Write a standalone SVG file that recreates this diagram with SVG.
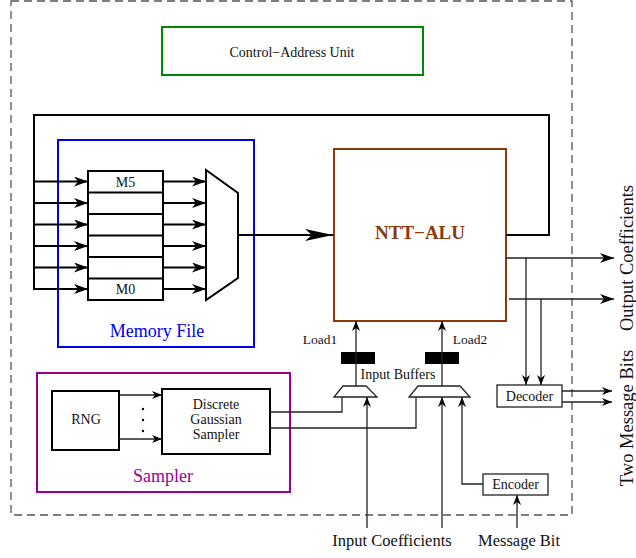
<svg xmlns="http://www.w3.org/2000/svg" width="636" height="558" viewBox="0 0 636 558">
<defs>
<style>
text{font-family:"Liberation Serif","Times New Roman",serif;fill:#111}
.thick{fill:none;stroke:#000;stroke-width:2}
.thin{fill:none;stroke:#222;stroke-width:1.3}
.box{fill:#fff;stroke:#000;stroke-width:2}
.sbox{fill:#fff;stroke:#222;stroke-width:1.3}
.c{text-anchor:middle}
</style>
<marker id="aBig" markerUnits="userSpaceOnUse" markerWidth="28" markerHeight="12" refX="28" refY="6" orient="auto"><path d="M0,0 L28,6 L0,12 L7,6 z" fill="#000"/></marker>
<marker id="aMid" markerUnits="userSpaceOnUse" markerWidth="14" markerHeight="10" refX="14" refY="5" orient="auto"><path d="M0,0 L14,5 L0,10 L4,5 z" fill="#000"/></marker>
<marker id="aSm" markerUnits="userSpaceOnUse" markerWidth="10" markerHeight="8" refX="10" refY="4" orient="auto"><path d="M0,0 L10,4 L0,8 L3,4 z" fill="#000"/></marker>
</defs>
<rect width="636" height="558" fill="#fff"/>
<rect x="11" y="1" width="561" height="514" fill="none" stroke="#555" stroke-width="1.3" stroke-dasharray="8,5"/>

<g id="control-address-unit">
<rect x="162" y="27" width="261" height="48" fill="#fff" stroke="#008800" stroke-width="2"/>
<text x="292" y="57" class="c" font-size="14">Control−Address Unit</text>
</g>

<g id="memory-file">
<rect x="58" y="140" width="196" height="207" fill="none" stroke="#0000ee" stroke-width="2"/>
<text x="157" y="337" class="c" font-size="18" style="fill:#0000ee">Memory File</text>
</g>

<g id="registers">
<rect x="88" y="171" width="75" height="129" class="box"/>
<line x1="88" y1="192.5" x2="163" y2="192.5" class="thick"/>
<line x1="88" y1="214" x2="163" y2="214" class="thick"/>
<line x1="88" y1="235.5" x2="163" y2="235.5" class="thick"/>
<line x1="88" y1="257" x2="163" y2="257" class="thick"/>
<line x1="88" y1="278.5" x2="163" y2="278.5" class="thick"/>
<text x="125.5" y="186.5" class="c" font-size="14">M5</text>
<text x="125.5" y="294" class="c" font-size="14">M0</text>
</g>

<g id="mux">
<polygon points="206,170 238,193 238,278 206,300" class="box"/>
</g>

<g id="ntt-alu">
<rect x="334" y="149" width="172" height="172" fill="#fff" stroke="#8b3a0e" stroke-width="2"/>
<text x="420" y="239" class="c" font-size="19" font-weight="bold" style="fill:#8b3a0e">NTT−ALU</text>
</g>

<g id="sampler">
<rect x="37" y="373" width="253" height="119" fill="none" stroke="#990099" stroke-width="2"/>
<text x="163" y="482" class="c" font-size="18" style="fill:#990099">Sampler</text>
</g>

<g id="rng">
<rect x="52" y="391" width="67" height="59" class="box"/>
<text x="86" y="424" class="c" font-size="14">RNG</text>
</g>

<g id="dgs">
<rect x="162" y="389" width="108" height="65" class="box"/>
<text x="216" y="409" class="c" font-size="14">Discrete</text>
<text x="216" y="424" class="c" font-size="14">Gaussian</text>
<text x="216" y="439" class="c" font-size="14">Sampler</text>
</g>

<g id="buffer1">
<rect x="341" y="352" width="34" height="12" fill="#000"/>
</g>
<g id="buffer2">
<rect x="425" y="352" width="34" height="12" fill="#000"/>
</g>
<text x="398" y="379" class="c" font-size="14">Input Buffers</text>

<g id="mux1">
<polygon points="343,386 366,386 377,397 334,397" class="sbox"/>
</g>
<g id="mux2">
<polygon points="418,386 460,386 470,397 409,397" class="sbox"/>
</g>

<g id="decoder">
<rect x="497" y="385" width="65" height="22" class="sbox"/>
<text x="529.5" y="401" class="c" font-size="14">Decoder</text>
</g>

<g id="encoder">
<rect x="483" y="474" width="65" height="21" class="sbox"/>
<text x="515.5" y="489" class="c" font-size="14">Encoder</text>
</g>

<g id="connectors">
<polyline points="506,235 549,235 549,115 34,115 34,289" class="thick"/>
<line x1="34" y1="181.5" x2="88" y2="181.5" class="thick" marker-end="url(#aMid)"/>
<line x1="34" y1="203" x2="88" y2="203" class="thick" marker-end="url(#aMid)"/>
<line x1="34" y1="224.5" x2="88" y2="224.5" class="thick" marker-end="url(#aMid)"/>
<line x1="34" y1="246" x2="88" y2="246" class="thick" marker-end="url(#aMid)"/>
<line x1="34" y1="267.5" x2="88" y2="267.5" class="thick" marker-end="url(#aMid)"/>
<line x1="33" y1="289" x2="88" y2="289" class="thick" marker-end="url(#aMid)"/>
<line x1="163" y1="181.5" x2="206" y2="181.5" class="thick" marker-end="url(#aMid)"/>
<line x1="163" y1="203" x2="206" y2="203" class="thick" marker-end="url(#aMid)"/>
<line x1="163" y1="224.5" x2="206" y2="224.5" class="thick" marker-end="url(#aMid)"/>
<line x1="163" y1="246" x2="206" y2="246" class="thick" marker-end="url(#aMid)"/>
<line x1="163" y1="267.5" x2="206" y2="267.5" class="thick" marker-end="url(#aMid)"/>
<line x1="163" y1="289" x2="206" y2="289" class="thick" marker-end="url(#aMid)"/>
<line x1="238" y1="235" x2="333" y2="235" class="thick" marker-end="url(#aBig)"/>

<line x1="506" y1="258" x2="614" y2="258" class="thin" marker-end="url(#aMid)"/>
<line x1="509" y1="299" x2="614" y2="299" class="thin" marker-end="url(#aMid)"/>
<line x1="526" y1="258" x2="526" y2="385" class="thin" marker-end="url(#aSm)"/>
<line x1="541" y1="299" x2="541" y2="385" class="thin" marker-end="url(#aSm)"/>
<line x1="562" y1="391" x2="612" y2="391" class="thin" marker-end="url(#aSm)"/>
<line x1="562" y1="402" x2="612" y2="402" class="thin" marker-end="url(#aSm)"/>

<line x1="356" y1="386" x2="356" y2="321" class="thin" marker-end="url(#aSm)"/>
<line x1="442" y1="386" x2="442" y2="321" class="thin" marker-end="url(#aSm)"/>

<line x1="119" y1="395" x2="162" y2="395" class="thin" marker-end="url(#aSm)"/>
<line x1="119" y1="439" x2="162" y2="439" class="thin" marker-end="url(#aSm)"/>
<circle cx="143" cy="409" r="1.2" fill="#000"/>
<circle cx="143" cy="420" r="1.2" fill="#000"/>
<circle cx="143" cy="431" r="1.2" fill="#000"/>

<polyline points="270,412 342,412 342,397" class="thin"/>
<polyline points="270,428 416,428 416,397" class="thin"/>
<line x1="367" y1="528" x2="367" y2="397" class="thin" marker-end="url(#aSm)"/>
<line x1="442" y1="528" x2="442" y2="397" class="thin" marker-end="url(#aSm)"/>
<polyline points="483,484 462,484 462,397" class="thin" marker-end="url(#aSm)"/>
<line x1="517" y1="528" x2="517" y2="495" class="thin" marker-end="url(#aSm)"/>
</g>

<text x="320" y="344" class="c" font-size="13.5">Load1</text>
<text x="470" y="344" class="c" font-size="13.5">Load2</text>
<text x="392" y="546" class="c" font-size="16.5">Input Coefficients</text>
<text x="519" y="546" class="c" font-size="16.5">Message Bit</text>
<text transform="translate(633,258) rotate(-90)" class="c" font-size="18.5">Output Coefficients</text>
<text transform="translate(633,418) rotate(-90)" class="c" font-size="18.5">Two Message Bits</text>
</svg>
